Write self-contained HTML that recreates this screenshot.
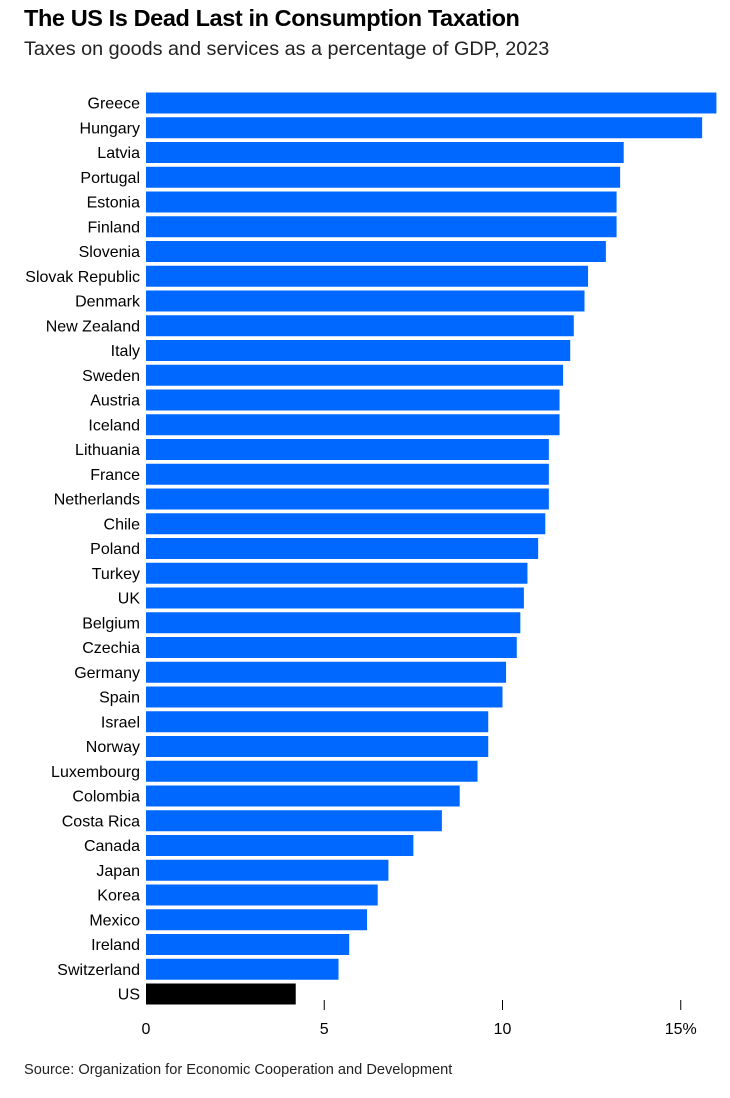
<!DOCTYPE html>
<html><head><meta charset="utf-8"><style>
body{margin:0;background:#fff;font-family:"Liberation Sans",Arial,sans-serif;}
#wrap{position:relative;width:730px;height:1098px;overflow:hidden;}
h1{position:absolute;left:24px;top:5px;margin:0;font-size:23.5px;font-weight:bold;letter-spacing:-0.4px;color:#000;}
.sub{position:absolute;left:24px;top:38px;font-size:19.8px;color:#222;}
.src{position:absolute;left:24px;top:1062px;font-size:14.6px;color:#222;}
</style></head><body>
<div id="wrap">
<h1>The US Is Dead Last in Consumption Taxation</h1>
<div class="sub">Taxes on goods and services as a percentage of GDP, 2023</div>
<svg id="chart" width="730" height="1060" style="position:absolute;left:0;top:0"></svg>
<div class="src">Source: Organization for Economic Cooperation and Development</div>
</div>
<script>
const categories=["Greece","Hungary","Latvia","Portugal","Estonia","Finland","Slovenia","Slovak Republic","Denmark","New Zealand","Italy","Sweden","Austria","Iceland","Lithuania","France","Netherlands","Chile","Poland","Turkey","UK","Belgium","Czechia","Germany","Spain","Israel","Norway","Luxembourg","Colombia","Costa Rica","Canada","Japan","Korea","Mexico","Ireland","Switzerland","US"];
const values=[16.0,15.6,13.4,13.3,13.2,13.2,12.9,12.4,12.3,12.0,11.9,11.7,11.6,11.6,11.3,11.3,11.3,11.2,11.0,10.7,10.6,10.5,10.4,10.1,10.0,9.6,9.6,9.3,8.8,8.3,7.5,6.8,6.5,6.2,5.7,5.4,4.2];
const ticks=[0,5,10,15];
const tickLabels=["0","5","10","15%"];
const NS="http://www.w3.org/2000/svg";
const svg=document.getElementById('chart');
const x=v=>146+v*35.65;
const yc=i=>103+i*24.75;
function mk(t,a){const e=document.createElementNS(NS,t);for(const k in a)e.setAttribute(k,a[k]);svg.appendChild(e);return e;}
categories.forEach((c,i)=>{
 const r=mk('rect',{x:x(0),y:yc(i)-10.5,width:x(values[i])-x(0),height:21,fill:c==="US"?"#000":"#0068ff"});
 
 
 const t=mk('text',{x:140,y:yc(i)+5.5,'text-anchor':'end','font-size':16,fill:'#000','font-family':'Liberation Sans, Arial, sans-serif'});
 t.textContent=c;
 
 
});
ticks.forEach((v,i)=>{
 if(v>0){const l=mk('line',{x1:x(v),x2:x(v),y1:1000,y2:1010,stroke:'#000','stroke-width':1});
 
 }
 const t=mk('text',{x:x(v),y:1034,'text-anchor':'middle','font-size':16,fill:'#000','font-family':'Liberation Sans, Arial, sans-serif'});
 t.textContent=tickLabels[i];
 
 
});
</script>
</body></html>
